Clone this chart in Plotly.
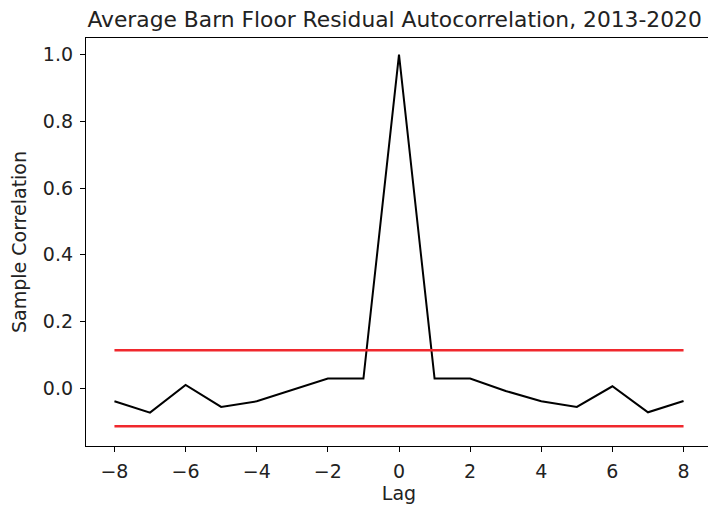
import plotly.graph_objects as go

lags = [-8, -7, -6, -5, -4, -3, -2, -1, 0, 1, 2, 3, 4, 5, 6, 7, 8]
acf = [-0.039, -0.073, 0.010, -0.056, -0.039, -0.006, 0.029, 0.029, 1.0,
       0.029, 0.029, -0.008, -0.039, -0.056, 0.006, -0.072, -0.038]
bound_x = [-8, 8]
upper = [0.114, 0.114]
lower = [-0.114, -0.114]

title = "Average Barn Floor Residual Autocorrelation, 2013-2020"
font = "DejaVu Sans"

fig = go.Figure()
fig.add_trace(go.Scatter(x=lags, y=acf, mode="lines",
                         line=dict(color="black", width=2), showlegend=False))
fig.add_trace(go.Scatter(x=bound_x, y=upper, mode="lines",
                         line=dict(color="#f0282d", width=2.6), showlegend=False))
fig.add_trace(go.Scatter(x=bound_x, y=lower, mode="lines",
                         line=dict(color="#f0282d", width=2.6), showlegend=False))

axis_common = dict(showline=True, linecolor="black", linewidth=1.3, mirror=True,
                   ticks="outside", ticklen=5, tickwidth=1.2, tickcolor="black",
                   showgrid=False, zeroline=False, automargin=False,
                   ticklabelstandoff=3,
                   tickfont=dict(family=font, size=19, color="#222"))

W, H = 708, 498
fig.update_layout(
    width=W, height=H,
    margin=dict(l=78, r=4, t=30, b=60),
    paper_bgcolor="white", plot_bgcolor="white",
    title=dict(text=title, x=0.493, xref="paper", xanchor="center", y=1 - 11.5 / H,
               yanchor="middle", yref="container",
               font=dict(family=font, size=21.8, color="#222")),
    xaxis=dict(range=[-8.8, 8.8], dtick=2, tick0=0,
               title=dict(text="Lag", font=dict(family=font, size=19, color="#222"),
                          standoff=5),
               **axis_common),
    yaxis=dict(range=[-0.173, 1.050], dtick=0.2, tick0=0, tickformat=".1f",
               title=dict(text="Sample Correlation",
                          font=dict(family=font, size=19, color="#222"),
                          standoff=16),
               **axis_common),
)

fig.write_html("out.html")
